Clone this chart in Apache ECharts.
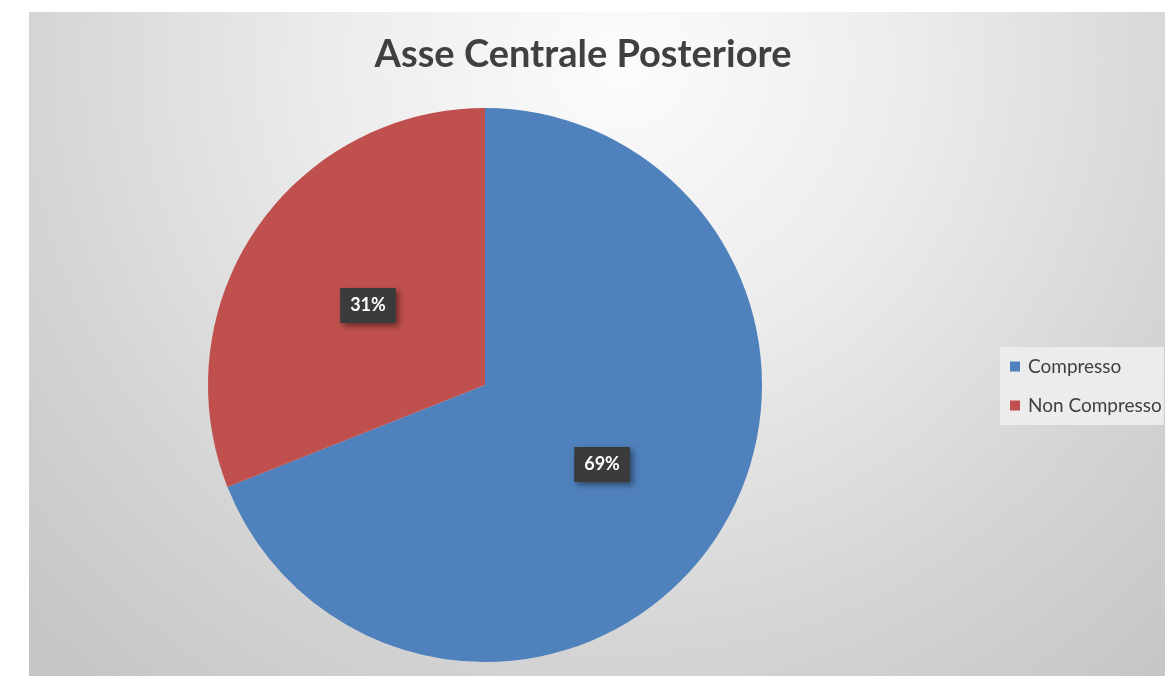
<!DOCTYPE html>
<html>
<head>
<meta charset="utf-8">
<script src="https://cdn.jsdelivr.net/npm/echarts@6/dist/echarts.min.js"></script>
<style>
  html, body { margin: 0; padding: 0; background: #ffffff; }
  #chart { width: 1165px; height: 676px; }
</style>
</head>
<body>
<div id="chart"></div>
<script>
const categories = ['Compresso', 'Non Compresso'];
const values = [69, 31];
const colors = ['#4f81bd', '#c0504d'];

document.addEventListener('DOMContentLoaded', function() {
    const chart = echarts.init(document.getElementById('chart'));

    const pieData = categories.map((name, i) => ({
        name: name,
        value: values[i],
        itemStyle: {color: colors[i]}
    }));

    chart.setOption({
        animation: false,
        graphic: [
            {
                type: 'rect',
                z: -10,
                silent: true,
                shape: {x: 29, y: 12, width: 1136, height: 664},
                style: {
                    fill: new echarts.graphic.RadialGradient(620, 60, 830, [
                        {offset: 0, color: '#fcfcfc'},
                        {offset: 0.35, color: '#ececec'},
                        {offset: 0.72, color: '#d4d4d4'},
                        {offset: 1, color: '#c5c5c5'}
                    ], true)
                }
            }
        ],
        title: {
            text: 'Asse Centrale Posteriore',
            left: 578,
            textAlign: 'center',
            top: 31,
            textStyle: {
                fontFamily: 'Lato',
                fontWeight: 'bold',
                fontSize: 38,
                color: '#404040'
            }
        },
        legend: {
            orient: 'vertical',
            left: 1000,
            top: 347,
            padding: [10, 2, 10, 10],
            backgroundColor: '#ececec',
            itemGap: 20,
            itemWidth: 10,
            itemHeight: 10,
            icon: 'rect',
            textStyle: {
                fontFamily: 'Lato',
                fontSize: 19,
                color: '#404040',
                padding: [0, 0, 0, 3]
            },
            data: categories
        },
        series: [
            {
                type: 'pie',
                center: [485, 385],
                radius: 277,
                startAngle: 90,
                clockwise: true,
                silent: true,
                label: {
                    position: 'inside',
                    formatter: '{d}%',
                    fontFamily: 'Lato',
                    fontWeight: 'bold',
                    fontSize: 18,
                    color: '#ffffff',
                    backgroundColor: '#3b3b3b',
                    padding: [9, 10, 8, 10],
                    shadowColor: 'rgba(0,0,0,0.45)',
                    shadowBlur: 6,
                    shadowOffsetX: 3,
                    shadowOffsetY: 3
                },
                labelLine: {show: false},
                data: pieData
            }
        ]
    });
});
</script>
</body>
</html>
